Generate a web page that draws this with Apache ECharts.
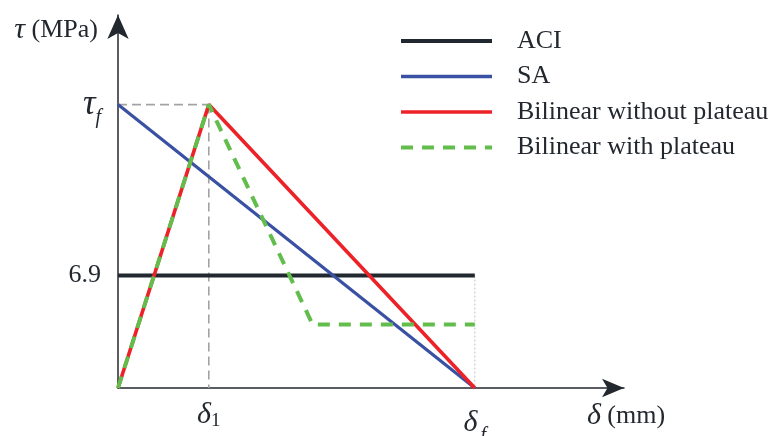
<!DOCTYPE html>
<html>
<head>
<meta charset="utf-8">
<script src="https://cdn.jsdelivr.net/npm/echarts@6/dist/echarts.min.js"></script>
<style>
  html, body { margin: 0; padding: 0; background: #fff; }
  #chart { width: 772px; height: 436px; }
</style>
</head>
<body>
<div id="chart"></div>
<script>
// Key slip values (mm) and bond stresses (MPa) of the bond–slip laws
const delta1 = 0.28;      // slip at peak stress
const deltaKnee = 0.6;    // end of softening branch for the plateau model
const deltaF = 1.1;       // ultimate slip
const tauF = 17.4;        // peak bond stress
const tauACI = 6.9;       // constant ACI bond stress
const tauPlateau = 3.9;   // residual plateau stress

const seriesNames = ['ACI', 'SA', 'Bilinear without plateau', 'Bilinear with plateau'];
const aciPts = [[0, tauACI], [deltaF, tauACI]];
const saPts = [[0, tauF], [deltaF, 0]];
const bilinearPts = [[0, 0], [delta1, tauF], [deltaF, 0]];
const plateauPts = [[0, 0], [delta1, tauF], [deltaKnee, tauPlateau], [deltaF, tauPlateau]];

// Reference guides
const guideH = [[0, tauF], [delta1, tauF]];
const guideV = [[delta1, tauF], [delta1, 0]];
const guideF = [[deltaF, tauACI], [deltaF, 0]];

const xTicks = [delta1, deltaF];
const yTicks = [tauACI, tauF];
const xMax = 1.56;
const yMax = 22.9;

const FONT = 'Liberation Serif';
const INK = '#23282f';

const COLORS = { aci: '#22282f', sa: '#3a51a3', bi: '#ec2228', pl: '#62bd4c' };

const chart = echarts.init(document.getElementById('chart'), null, { renderer: 'canvas' });

function guide(data, color, type, width) {
  return {
    type: 'line', data, symbol: 'none', silent: true, z: 1,
    lineStyle: { color, type, width }
  };
}

function curve(name, data, color, width, type, z) {
  return {
    name, type: 'line', data, symbol: 'none', z,
    itemStyle: { color },
    lineStyle: { color, width, type }
  };
}

chart.setOption({
  animation: false,
  backgroundColor: '#fff',
  textStyle: { fontFamily: FONT, color: INK },
  grid: { left: 118, top: 15, width: 506, height: 373, containLabel: false, outerBoundsMode: 'none' },
  legend: {
    data: [
      { name: seriesNames[0], lineStyle: { width: 4 } },
      { name: seriesNames[1], lineStyle: { width: 3.4 } },
      { name: seriesNames[2], lineStyle: { width: 3.6 } },
      { name: seriesNames[3], lineStyle: { width: 4 } }
    ],
    orient: 'vertical',
    left: 394, top: 23,
    itemWidth: 91, itemHeight: 14, itemGap: 9.5,
    itemStyle: { opacity: 0 },
    textStyle: { fontFamily: FONT, fontSize: 26, color: INK, lineHeight: 26, padding: [0, 0, 0, 20] },
    selectedMode: false
  },
  xAxis: {
    type: 'value', min: 0, max: xMax,
    splitLine: { show: false },
    axisTick: { show: false },
    axisLine: { lineStyle: { color: INK, width: 1.5 }, symbol: ['none', 'arrow'], symbolSize: [14, 22] },
    axisLabel: {
      customValues: xTicks,
      margin: 12,
      formatter: v => v === delta1 ? '{d|δ}{one|1}' : '{d|δ}{f|f}',
      rich: {
        d: { fontFamily: FONT, fontStyle: 'italic', fontSize: 30, color: INK },
        one: { fontFamily: FONT, fontSize: 19, color: INK, padding: [12, 0, 0, 0] },
        f: { fontFamily: FONT, fontStyle: 'italic', fontSize: 20, color: INK, padding: [26, 0, 0, 3] }
      }
    },
    name: '{d|δ} (mm)',
    nameLocation: 'end', nameGap: 2,
    nameTextStyle: {
      align: 'center', verticalAlign: 'top', padding: [13, 0, 0, 0],
      fontFamily: FONT, fontSize: 26, color: INK,
      rich: { d: { fontFamily: FONT, fontStyle: 'italic', fontSize: 30, color: INK } }
    }
  },
  yAxis: {
    type: 'value', min: 0, max: yMax,
    splitLine: { show: false },
    axisTick: { show: false },
    axisLine: { lineStyle: { color: INK, width: 1.5 }, symbol: ['none', 'arrow'], symbolSize: [16, 24] },
    axisLabel: {
      customValues: yTicks,
      margin: 17,
      fontFamily: FONT, fontSize: 26, color: INK,
      formatter: v => v === tauF ? '{t|τ}{f|f}' : '6.9',
      rich: {
        t: { fontFamily: FONT, fontStyle: 'italic', fontSize: 35, color: INK },
        f: { fontFamily: FONT, fontStyle: 'italic', fontSize: 20, color: INK, padding: [26, 0, 0, 0] }
      }
    },
    name: '{t|τ} (MPa)',
    nameLocation: 'end', nameGap: -15,
    nameTextStyle: {
      align: 'right', verticalAlign: 'middle', padding: [0, 20, 0, 0],
      fontFamily: FONT, fontSize: 26, color: INK,
      rich: { t: { fontFamily: FONT, fontStyle: 'italic', fontSize: 30, color: INK } }
    }
  },
  series: [
    guide(guideH, '#a3a3a3', [9, 5], 1.6),
    guide(guideV, '#a3a3a3', [9, 5], 1.6),
    guide(guideF, '#c4c4c4', [2, 2], 1),
    curve('ACI', aciPts, COLORS.aci, 4, 'solid', 2),
    curve('SA', saPts, COLORS.sa, 3.2, 'solid', 3),
    curve('Bilinear without plateau', bilinearPts, COLORS.bi, 3.6, 'solid', 4),
    curve('Bilinear with plateau', plateauPts, COLORS.pl, 4, [12, 9], 5)
  ]
});
</script>
</body>
</html>
